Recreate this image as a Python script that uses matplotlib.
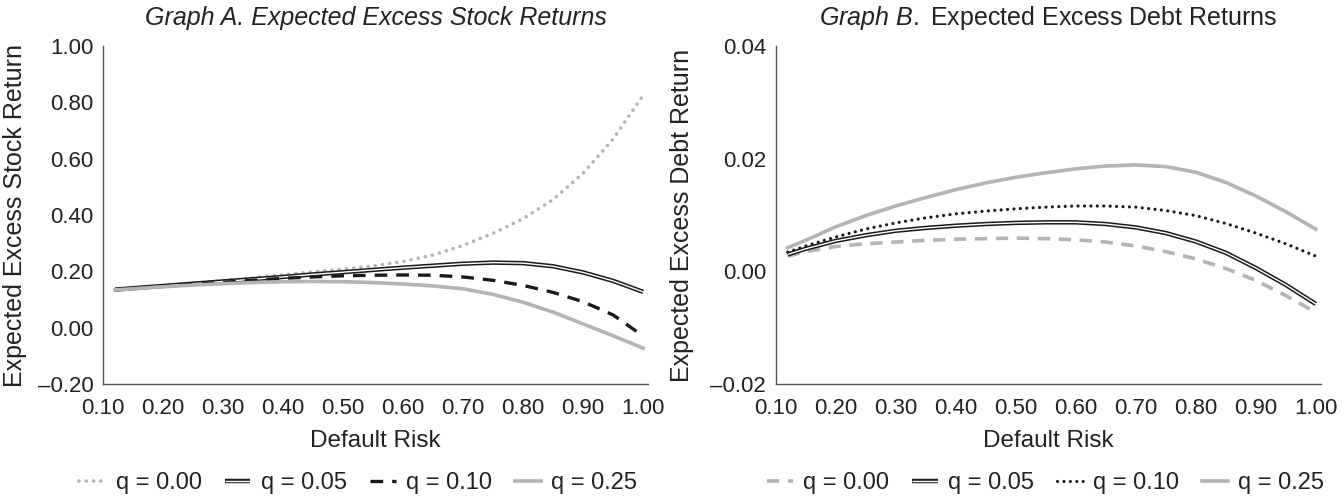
import numpy as np
import matplotlib
matplotlib.use("Agg")
import matplotlib.pyplot as plt
import matplotlib.patheffects as pe
from matplotlib.ticker import FuncFormatter

plt.rcParams["font.family"] = ["Liberation Sans", "DejaVu Sans"]
plt.rcParams["mathtext.fontset"] = "custom"
plt.rcParams["mathtext.it"] = "Liberation Sans:italic"
plt.rcParams["mathtext.rm"] = "Liberation Sans"

# Default risk grid (shared by both panels)
risk = [0.12, 0.15, 0.20, 0.25, 0.30, 0.35, 0.40, 0.45, 0.50, 0.55,
        0.60, 0.65, 0.70, 0.75, 0.80, 0.85, 0.90, 0.95, 1.00]

# Graph A: expected excess stock returns
stock_q000 = [0.135, 0.140, 0.148, 0.157, 0.167, 0.177, 0.188, 0.198, 0.208, 0.219,
              0.235, 0.258, 0.292, 0.335, 0.387, 0.455, 0.548, 0.670, 0.825]
stock_q005 = [0.135, 0.140, 0.148, 0.156, 0.164, 0.172, 0.180, 0.189, 0.197, 0.205,
              0.213, 0.220, 0.227, 0.231, 0.229, 0.218, 0.196, 0.166, 0.127]
stock_q010 = [0.135, 0.140, 0.147, 0.154, 0.161, 0.168, 0.175, 0.180, 0.184, 0.186,
              0.187, 0.186, 0.180, 0.168, 0.150, 0.125, 0.092, 0.045, -0.030]
stock_q025 = [0.134, 0.138, 0.145, 0.151, 0.156, 0.160, 0.163, 0.164, 0.163, 0.160,
              0.155, 0.148, 0.138, 0.118, 0.090, 0.055, 0.013, -0.029, -0.073]

# Graph B: expected excess debt returns
debt_q000 = [0.0027, 0.0035, 0.0044, 0.0049, 0.0052, 0.0055, 0.0057, 0.0058, 0.0059, 0.0058,
             0.0056, 0.0052, 0.0045, 0.0035, 0.0022, 0.0005, -0.0016, -0.0043, -0.0073]
debt_q005 = [0.0030, 0.0040, 0.0054, 0.0064, 0.0072, 0.0077, 0.0081, 0.0084, 0.0086, 0.0087,
             0.0087, 0.0084, 0.0078, 0.0068, 0.0053, 0.0033, 0.0006, -0.0024, -0.0058]
debt_q010 = [0.0034, 0.0045, 0.0061, 0.0075, 0.0086, 0.0095, 0.0102, 0.0107, 0.0111, 0.0114,
             0.0116, 0.0116, 0.0114, 0.0108, 0.0099, 0.0085, 0.0068, 0.0049, 0.0027]
debt_q025 = [0.0042, 0.0055, 0.0079, 0.0099, 0.0116, 0.0131, 0.0145, 0.0157, 0.0167, 0.0175,
             0.0182, 0.0187, 0.0189, 0.0186, 0.0176, 0.0158, 0.0134, 0.0106, 0.0075]

labels = ["q = 0.00", "q = 0.05", "q = 0.10", "q = 0.25"]
x_ticks = [0.1, 0.2, 0.3, 0.4, 0.5, 0.6, 0.7, 0.8, 0.9, 1.0]

BLACK = "#1a1a1a"
GRAY = "#b4b4b4"
AXIS = "#555555"
TEXT = "#222222"


def double_line(ax, x, y, label):
    """Black outline with a white core, like the q = 0.05 curves"""
    ax.plot(x, y, color="white", lw=1.0, label=label, solid_capstyle="butt",
            solid_joinstyle="round",
            path_effects=[pe.Stroke(linewidth=3.2, foreground=BLACK), pe.Normal()])


def style_axes(ax, ylim, yticks, fmt):
    ax.set_xlim(0.1, 1.008)
    ax.set_ylim(*ylim)
    ax.set_xticks(x_ticks)
    ax.set_yticks(yticks)
    ax.xaxis.set_major_formatter(FuncFormatter(lambda v, p: f"{v:.2f}"))
    ax.yaxis.set_major_formatter(FuncFormatter(lambda v, p: fmt.format(v).replace("-", "\u2013")))
    for side in ["top", "right"]:
        ax.spines[side].set_visible(False)
    for side in ["left", "bottom"]:
        ax.spines[side].set_color(AXIS)
        ax.spines[side].set_linewidth(1.0)
    ax.tick_params(length=0, labelsize=16, colors=TEXT)
    ax.tick_params(axis="x", pad=10.5)
    ax.tick_params(axis="y", pad=7)
    ax.set_xlabel("Default Risk", fontsize=17.5, color=TEXT)
    ax.xaxis.set_label_coords(0.5, -0.136)


fig = plt.figure(figsize=(13.42, 4.96), dpi=100)
ax_a = fig.add_axes([0.0768, 0.226, 0.406, 0.681])
ax_b = fig.add_axes([0.578, 0.226, 0.406, 0.681])

# Graph A
ax_a.plot(risk, stock_q000, color=GRAY, lw=2.6, linestyle=(0, (0.01, 2.0)),
          dash_capstyle="round", label=labels[0])
double_line(ax_a, risk, stock_q005, labels[1])
ax_a.plot(risk, stock_q010, color=BLACK, lw=2.4, linestyle=(0, (3.8, 2.7)), label=labels[2])
ax_a.plot(risk, stock_q025, color=GRAY, lw=2.6, label=labels[3])
style_axes(ax_a, (-0.2, 1.0), [-0.2, 0.0, 0.2, 0.4, 0.6, 0.8, 1.0], "{:.2f}")
ax_a.set_ylabel("Expected Excess Stock Return", fontsize=18, color=TEXT)
ax_a.yaxis.set_label_coords(-0.139, 0.5)
ax_a.text(0.5, 1.083, "Graph A. Expected Excess Stock Returns", transform=ax_a.transAxes,
          ha="center", va="center", fontsize=18, style="italic", color=TEXT)

# Graph B
ax_b.plot(risk, debt_q000, color=GRAY, lw=2.6, linestyle=(0, (3.4, 2.4)), label=labels[0])
double_line(ax_b, risk, debt_q005, labels[1])
ax_b.plot(risk, debt_q010, color=BLACK, lw=2.3, linestyle=(0, (0.01, 2.0)),
          dash_capstyle="round", label=labels[2])
ax_b.plot(risk, debt_q025, color=GRAY, lw=2.6, label=labels[3])
style_axes(ax_b, (-0.02, 0.04), [-0.02, 0.0, 0.02, 0.04], "{:.2f}")
ax_b.set_ylabel("Expected Excess Debt Return", fontsize=18, color=TEXT)
ax_b.yaxis.set_label_coords(-0.149, 0.5)
ax_b.text(0.5, 1.083, r"$\mathit{Graph\ B.}$ Expected Excess Debt Returns",
          transform=ax_b.transAxes, ha="center", va="center", fontsize=18, color=TEXT)

# Legends below each panel
for ax, xc in [(ax_a, 0.267), (ax_b, 0.779)]:
    ax.legend(loc="center", bbox_to_anchor=(xc, 0.026), bbox_transform=fig.transFigure,
              ncol=4, frameon=False, fontsize=17, handlelength=1.1, handletextpad=0.45,
              columnspacing=0.95, labelcolor=TEXT, borderaxespad=0, borderpad=0)

fig.savefig("out.png", dpi=100)
